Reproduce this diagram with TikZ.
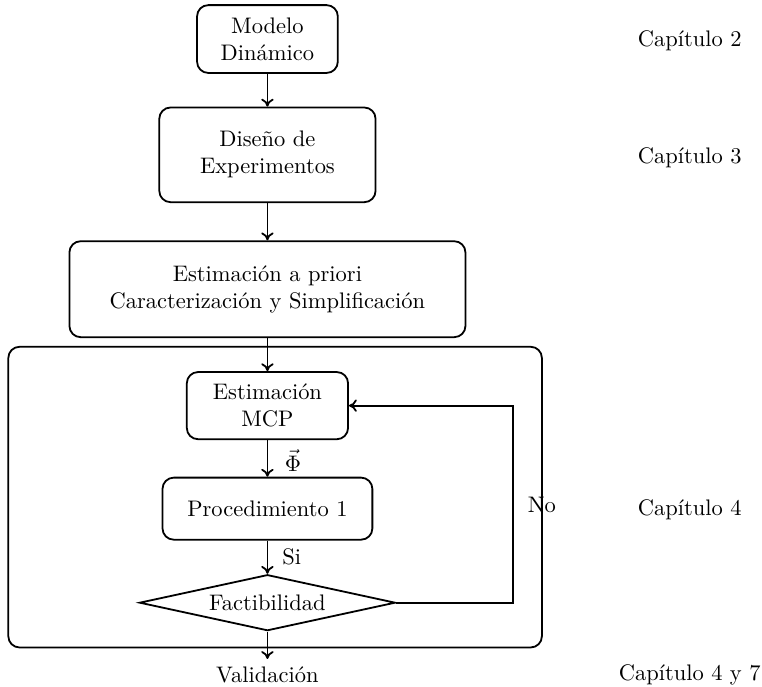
\documentclass[tikz,border=0pt]{standalone}
\usepackage{amsmath}
\usetikzlibrary{shapes.geometric}
\usetikzlibrary{arrows.meta}
\usetikzlibrary{positioning}

\begin{document}
\begin{tikzpicture}[
    bloque/.style={draw, thick, rounded corners=5pt, align=center},
    decision/.style={draw, thick, diamond, aspect=4.6, inner sep=1pt,
        minimum width=4cm, minimum height=0.875cm},
    flecha/.style={-{To[length=3.5pt,width=5.5pt]}, thick}]
\useasboundingbox (0,0) rectangle (11.91,-10.73);

% etapas
\node[bloque, minimum width=2.2cm, minimum height=1.06cm] (modelo) at (4.18,-0.61) {Modelo\\Din\'amico};
\node[bloque, minimum width=3.38cm, minimum height=1.48cm] (diseno) at (4.18,-2.42) {Dise\~no de\\Experimentos};
\node[bloque, minimum width=6.19cm, minimum height=1.5cm] (priori) at (4.18,-4.52) {Estimaci\'on a priori\\Caracterizaci\'on y Simplificaci\'on};

% bloque del capitulo 4
\node[draw, thick, rounded corners=5pt, minimum width=8.34cm, minimum height=4.7cm] (marco) at (4.3,-7.77) {};
\node[bloque, minimum width=2.52cm, minimum height=1.05cm] (mcp) at (4.18,-6.34) {Estimaci\'on\\MCP};
\node[bloque, minimum width=3.28cm, minimum height=0.97cm] (proc) at (4.18,-7.95) {Procedimiento 1};
\node[decision] (fact) at (4.18,-9.42) {Factibilidad};
\node (valid) at (4.18,-10.55) {Validaci\'on};
\coordinate (retorno) at (8.02,-6.34);

\draw[flecha] (modelo) -- (diseno);
\draw[flecha] (diseno) -- (priori);
\draw[flecha] (priori) -- (mcp);
\draw[flecha] (mcp) -- (proc);
\draw[flecha] (proc) -- (fact);
\draw[flecha] (fact) -- (valid);
\draw[flecha] (fact.east) -| (retorno) -- (mcp.east);

\node[inner sep=1pt] (phi) at (4.58,-7.2) {$\vec{\Phi}$};
\node (si) at (4.56,-8.7) {Si};
\node (no) at (8.47,-7.89) {No};

% capitulos
\node (cap2) at (10.78,-0.64) {Cap\'itulo 2};
\node (cap3) at (10.78,-2.47) {Cap\'itulo 3};
\node (cap4) at (10.78,-7.97) {Cap\'itulo 4};
\node (cap47) at (10.78,-10.55) {Cap\'itulo 4 y 7};
\end{tikzpicture}
\end{document}
